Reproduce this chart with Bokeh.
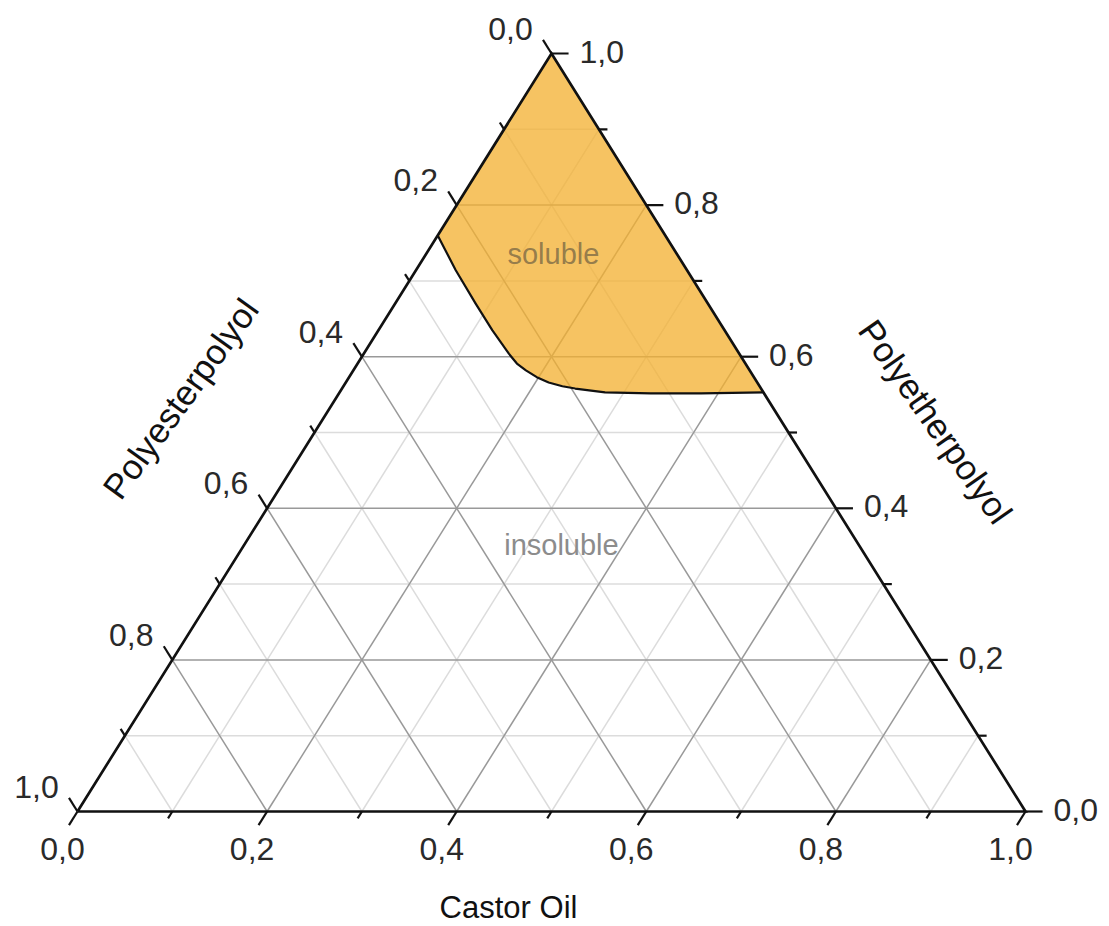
import math
from bokeh.plotting import figure
from bokeh.models import Range1d
from bokeh.embed import file_html
from bokeh.resources import INLINE
from bokeh.core.properties import value

# ---------------- data ----------------
# ternary axes: Castor Oil (bottom), Polyetherpolyol (right), Polyesterpolyol (left)
axis_ticks = [0.0, 0.1, 0.2, 0.3, 0.4, 0.5, 0.6, 0.7, 0.8, 0.9, 1.0]
major_ticks = [0.0, 0.2, 0.4, 0.6, 0.8, 1.0]
tick_labels = ["0,0", "0,2", "0,4", "0,6", "0,8", "1,0"]
grid_values = [0.1, 0.2, 0.3, 0.4, 0.5, 0.6, 0.7, 0.8, 0.9]
major_grid = [0.2, 0.4, 0.6, 0.8]
title_bottom = "Castor Oil"
title_right = "Polyetherpolyol"
title_left = "Polyesterpolyol"

# solubility boundary (fractions of castor oil and polyetherpolyol)
boundary_castor = [0.0, 0.042, 0.085, 0.120, 0.153, 0.168, 0.182, 0.198, 0.214, 0.231,
                   0.246, 0.280, 0.329, 0.382, 0.447]
boundary_polyether = [0.760, 0.714, 0.670, 0.635, 0.604, 0.591, 0.582, 0.573, 0.566, 0.561,
                      0.558, 0.553, 0.5515, 0.5515, 0.553]

region_labels = ["soluble", "insoluble"]
region_castor = [0.134, 0.335]
region_polyether = [0.736, 0.351]

FONT = value("Liberation Sans")


def to_xy(c, e):
    return c + e / 2.0, e


def xy_lists(cs, es):
    xs, ys = [], []
    for c, e in zip(cs, es):
        x, y = to_xy(c, e)
        xs.append(x)
        ys.append(y)
    return xs, ys


p = figure(width=1109, height=926, output_backend="svg", toolbar_location=None,
           x_range=Range1d(-0.081224, 1.088608), y_range=Range1d(-0.151715, 1.069921),
           min_border=0)
p.axis.visible = False
p.grid.visible = False
p.outline_line_color = None
p.background_fill_color = "white"
p.border_fill_color = "white"

# ---------------- grid ----------------
def grid_segments(vals):
    x0, y0, x1, y1 = [], [], [], []
    for v in vals:
        a = to_xy(v, 0.0); b = to_xy(v, 1.0 - v)
        x0.append(a[0]); y0.append(a[1]); x1.append(b[0]); y1.append(b[1])
        a = to_xy(0.0, v); b = to_xy(1.0 - v, v)
        x0.append(a[0]); y0.append(a[1]); x1.append(b[0]); y1.append(b[1])
        a = to_xy(0.0, 1.0 - v); b = to_xy(1.0 - v, 0.0)
        x0.append(a[0]); y0.append(a[1]); x1.append(b[0]); y1.append(b[1])
    return x0, y0, x1, y1

minor_vals = [v for v in grid_values if v not in major_grid]
gx0, gy0, gx1, gy1 = grid_segments(minor_vals)
p.segment(gx0, gy0, gx1, gy1, line_color="#dcdcdc", line_width=1.5)
gx0, gy0, gx1, gy1 = grid_segments(major_grid)
p.segment(gx0, gy0, gx1, gy1, line_color="#999999", line_width=1.5)

# ---------------- soluble region ----------------
poly_c = boundary_castor + [0.0]
poly_e = boundary_polyether + [1.0]
px_, py_ = xy_lists(poly_c, poly_e)
p.patch(px_, py_, fill_color="#f3b030", fill_alpha=0.76, line_color=None)

bx, by = xy_lists(boundary_castor, boundary_polyether)
p.line(bx, by, line_color="#111111", line_width=2.2, line_join="round")

# ---------------- triangle frame ----------------
tri_c = [0.0, 1.0, 0.0, 0.0]
tri_e = [0.0, 0.0, 1.0, 0.0]
tx, ty = xy_lists(tri_c, tri_e)
p.line(tx, ty, line_color="#111111", line_width=2.7, line_join="miter")

# ---------------- ticks ----------------
MAJ, MIN = 0.018, 0.009
kx0, ky0, kx1, ky1 = [], [], [], []
for v in axis_ticks:
    L = MAJ if any(abs(v - m) < 1e-9 for m in major_ticks) else MIN
    a = to_xy(v, 0.0)
    kx0.append(a[0]); ky0.append(a[1]); kx1.append(a[0] - L / 2.0); ky1.append(a[1] - L)
    a = to_xy(1.0 - v, v)
    kx0.append(a[0]); ky0.append(a[1]); kx1.append(a[0] + L); ky1.append(a[1])
    a = to_xy(0.0, 1.0 - v)
    kx0.append(a[0]); ky0.append(a[1]); kx1.append(a[0] - L / 2.0); ky1.append(a[1] + L)
p.segment(kx0, ky0, kx1, ky1, line_color="#111111", line_width=2.2)

# ---------------- tick labels ----------------
bx_l, by_l = xy_lists(major_ticks, [0.0] * len(major_ticks))
p.text(bx_l, by_l, text=tick_labels, x_offset=-15, y_offset=37, text_align="center",
       text_baseline="middle", text_font=FONT, text_font_size="32px", text_color="#2a2a2a")
rx_l, ry_l = xy_lists([1.0 - v for v in major_ticks], major_ticks)
p.text(rx_l, ry_l, text=tick_labels, x_offset=28, y_offset=-2, text_align="left",
       text_baseline="middle", text_font=FONT, text_font_size="32px", text_color="#2a2a2a")
lx_l, ly_l = xy_lists([0.0] * len(major_ticks), [1.0 - v for v in major_ticks])
p.text(lx_l, ly_l, text=tick_labels, x_offset=-41, y_offset=-25, text_align="center",
       text_baseline="middle", text_font=FONT, text_font_size="32px", text_color="#2a2a2a")

# ---------------- axis titles ----------------
mx, my = to_xy(0.5, 0.0)
p.text([mx], [my], text=[title_bottom], x_offset=-43, y_offset=96, text_align="center",
       text_baseline="middle", text_font=FONT, text_font_size="31px", text_color="#111111")
mx, my = to_xy(0.5, 0.5)
p.text([mx], [my], text=[title_right], x_offset=147, y_offset=-11, angle=-math.radians(55),
       text_align="center", text_baseline="middle", text_font=FONT, text_font_size="35px",
       text_color="#111111")
mx, my = to_xy(0.0, 0.5)
p.text([mx], [my], text=[title_left], x_offset=-134, y_offset=-34, angle=math.radians(54),
       text_align="center", text_baseline="middle", text_font=FONT, text_font_size="35px",
       text_color="#111111")

# ---------------- region labels ----------------
rgx, rgy = xy_lists(region_castor, region_polyether)
p.text(rgx[:1], rgy[:1], text=region_labels[:1], text_align="center", text_baseline="middle",
       text_font=FONT, text_font_size="29px", text_color="#8a7448", text_alpha=0.9)
p.text(rgx[1:], rgy[1:], text=region_labels[1:], text_align="center", text_baseline="middle",
       text_font=FONT, text_font_size="29px", text_color="#8c8c8c")

open("out.html", "w").write(file_html(p, INLINE))
